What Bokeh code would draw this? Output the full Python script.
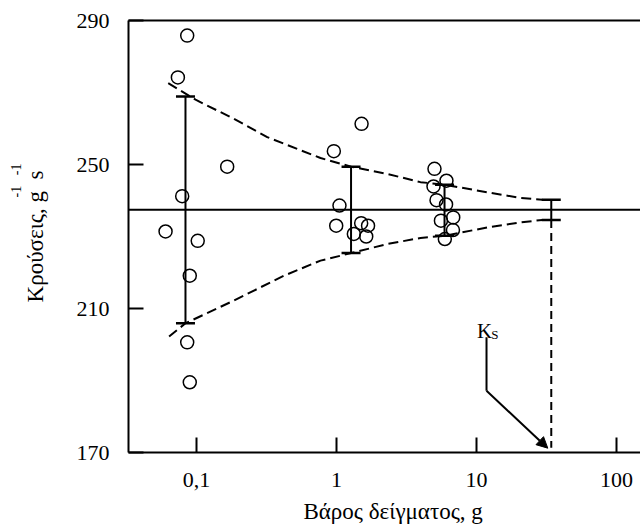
from bokeh.plotting import figure
from bokeh.models import Range1d, FixedTicker, LogAxis, LinearAxis, Span, Label, Arrow, NormalHead
from bokeh.embed import file_html
from bokeh.resources import INLINE

# ---- data ----
sample_weight = [0.0858, 0.0736, 0.1656, 0.079, 0.0601, 0.102, 0.0895, 0.0858, 0.0895,
                 1.51, 0.957, 1.05, 0.995, 1.50, 1.68, 1.33, 1.63,
                 5.01, 6.10, 4.93, 5.18, 6.06, 6.82, 5.57, 6.79, 5.94]
counts = [285.8, 274.2, 249.4, 241.2, 231.4, 228.8, 219.1, 200.6, 189.5,
          261.3, 253.7, 238.6, 233.0, 233.7, 233.0, 230.7, 230.0,
          248.8, 245.5, 243.9, 240.1, 238.9, 235.3, 234.4, 231.8, 229.3]
mean_count = 237.4

bar_weight = [0.0834, 1.27, 5.91, 34.2]
bar_upper = [268.9, 249.4, 244.4, 240.2]
bar_lower = [205.9, 225.4, 230.2, 234.6]

env_upper_weight = [0.0628, 0.0984, 0.1847, 0.320, 0.769, 1.274, 2.30, 3.98, 5.91, 11.92, 20.6, 29.5]
env_upper = [272.6, 268.0, 262.7, 257.6, 251.8, 249.4, 247.4, 245.1, 244.4, 242.3, 240.7, 240.2]
env_lower_weight = [0.0637, 0.0834, 0.1847, 0.420, 0.769, 1.274, 2.30, 3.98, 5.91, 11.92, 20.6, 29.5]
env_lower = [202.2, 205.9, 212.2, 219.1, 223.3, 225.4, 227.9, 229.6, 230.2, 232.5, 233.9, 234.6]

ks_weight = bar_weight[-1]
ks_line_bottom = 171.3
ks_pointer_weight = [11.79, 11.79, 32.3]
ks_pointer_count = [202.0, 187.15, 171.2]
ks_label_weight = [10.1, 12.74]
ks_label_count = [203.8, 202.9]

x_ticks = [0.1, 1, 10, 100]
x_tick_labels = ["0,1", "1", "10", "100"]
y_ticks = [170, 210, 250, 290]

NB = "\u00a0"
x_title = NB * 3 + "Βάρος δείγματος, g"
y_title = "Κρούσεις, g" + NB * 2 + "s"
y_sup = NB * 32 + "-1" + NB * 3 + "-1"

FONT = "Liberation Serif"

p = figure(width=640, height=530, x_axis_type="log",
           x_range=Range1d(0.03267, 148.4), y_range=Range1d(170, 290),
           output_backend="svg", toolbar_location=None,
           min_border_left=128, min_border_right=0, min_border_top=20, min_border_bottom=78)
p.outline_line_color = None
p.grid.visible = False

for ax in (p.xaxis[0], p.yaxis[0]):
    ax.axis_line_width = 2
    ax.major_tick_line_width = 2
    ax.major_tick_in = 15
    ax.major_tick_out = 0
    ax.minor_tick_line_color = None
    ax.major_label_text_font = FONT
    ax.major_label_text_font_size = "22px"
    ax.major_label_text_color = "black"
    ax.axis_label_text_font = FONT
    ax.axis_label_text_font_style = "normal"
    ax.axis_label_text_color = "black"

xa = p.xaxis[0]
xa.ticker = FixedTicker(ticks=x_ticks)
xa.major_label_overrides = {v: l for v, l in zip(x_ticks, x_tick_labels)}
xa.major_label_standoff = 20
xa.axis_label = x_title
xa.axis_label_text_font_size = "23px"
xa.axis_label_standoff = 9

ya = p.yaxis[0]
ya.ticker = FixedTicker(ticks=y_ticks)
ya.major_label_standoff = 19
ya.axis_label = y_title
ya.axis_label_text_font_size = "23px"
ya.axis_label_standoff = 26

sup_axis = LinearAxis(ticker=FixedTicker(ticks=[]), axis_line_color=None,
                      major_tick_line_color=None, minor_tick_line_color=None,
                      axis_label=y_sup, axis_label_standoff=-4,
                      axis_label_text_font=FONT, axis_label_text_font_size="14px",
                      axis_label_text_font_style="normal", axis_label_text_color="black")
p.add_layout(sup_axis, "left")

top = LogAxis(ticker=FixedTicker(ticks=[]), axis_line_width=2,
              major_tick_line_color=None, minor_tick_line_color=None,
              major_label_text_font_size="0px")
p.add_layout(top, "above")

# mean line
p.add_layout(Span(location=mean_count, dimension="width", line_color="black", line_width=2))

# envelope curves
p.line(env_upper_weight, env_upper, line_color="black", line_width=2, line_dash="10 5")
p.line(env_lower_weight, env_lower, line_color="black", line_width=2, line_dash="10 5")

# error bars
p.segment(x0=bar_weight, y0=bar_lower, x1=bar_weight, y1=bar_upper, line_color="black", line_width=2)
p.scatter(bar_weight, bar_upper, marker="dash", size=19, line_color="black", line_width=2.5)
p.scatter(bar_weight, bar_lower, marker="dash", size=19, line_color="black", line_width=2.5)

# dashed drop line at Ks
p.segment(x0=[ks_weight], y0=[bar_lower[-1]], x1=[ks_weight], y1=[ks_line_bottom],
          line_color="black", line_width=2, line_dash="8 5")

# data points
p.scatter(sample_weight, counts, marker="circle", size=13, fill_color=None,
          line_color="black", line_width=1.5)

# Ks pointer
p.line(ks_pointer_weight[:2], ks_pointer_count[:2], line_color="black", line_width=2)
p.add_layout(Arrow(end=NormalHead(size=11, fill_color="black", line_color="black", line_width=1),
                   x_start=ks_pointer_weight[1], y_start=ks_pointer_count[1],
                   x_end=ks_pointer_weight[2], y_end=ks_pointer_count[2],
                   line_color="black", line_width=2))
p.add_layout(Label(x=ks_label_weight[0], y=ks_label_count[0], text="K", text_font=FONT,
                   text_color="black", text_font_size="21px", text_align="left",
                   text_baseline="alphabetic"))
p.add_layout(Label(x=ks_label_weight[1], y=ks_label_count[1], text="S", text_font=FONT,
                   text_color="black", text_font_size="13px", text_align="left",
                   text_baseline="alphabetic"))

open("out.html", "w").write(file_html(p, INLINE))
